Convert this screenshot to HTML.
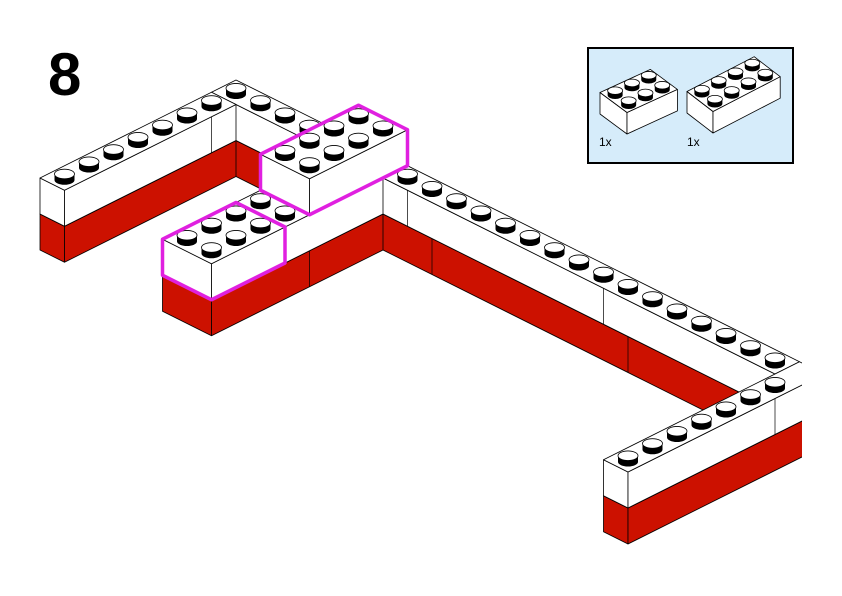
<!DOCTYPE html>
<html><head><meta charset="utf-8"><style>
html,body{margin:0;padding:0;background:#fff;width:842px;height:596px;overflow:hidden}
svg{display:block}
</style></head><body>
<svg id="s" width="842" height="596" viewBox="0 0 842 596" xmlns="http://www.w3.org/2000/svg">
<rect x="0" y="0" width="842" height="596" fill="#fff"/>
<g id="main"></g>
<rect x="802" y="0" width="40" height="596" fill="#fff"/>
<text x="48" y="95" font-family="Liberation Sans, sans-serif" font-weight="bold" font-size="60" fill="#000">8</text>
<rect x="588" y="48" width="205" height="115" fill="#d6ecfa" stroke="#000" stroke-width="2"/>
<g id="inset"></g>
<text x="599" y="146" font-family="Liberation Sans, sans-serif" font-size="12" fill="#000">1x</text>
<text x="687" y="146" font-family="Liberation Sans, sans-serif" font-size="12" fill="#000">1x</text>
</svg>
<script>
(function(){
var NS='http://www.w3.org/2000/svg';
var RED='#cc1100', MAG='#e020e0';
function el(p,n,at){var e=document.createElementNS(NS,n);for(var k in at)e.setAttribute(k,at[k]);p.appendChild(e);return e;}
function mkProj(ox,oy,A,B,H){return function(a,b,z){return [ox+A[0]*a+B[0]*b, oy+A[1]*a+B[1]*b-H*z];};}
function poly(g,P,pts,fill,sw){var s=pts.map(function(p){var q=P(p[0],p[1],p[2]);return q[0].toFixed(2)+','+q[1].toFixed(2);}).join(' ');
 el(g,'polygon',{points:s,fill:fill,stroke:'#000','stroke-width':sw,'stroke-linejoin':'round'});}
function box(g,P,a0,a1,b0,b1,z0,z1,fill,sw){
 poly(g,P,[[a0,b0,z0],[a1,b0,z0],[a1,b0,z1],[a0,b0,z1]],fill,sw);
 poly(g,P,[[a1,b0,z0],[a1,b1,z0],[a1,b1,z1],[a1,b0,z1]],fill,sw);
 poly(g,P,[[a0,b0,z1],[a1,b0,z1],[a1,b1,z1],[a0,b1,z1]],fill,sw);
}
function seamA(g,P,a,b,z0,z1){var p=P(a,b,z0),q=P(a,b,z1);el(g,'line',{x1:p[0],y1:p[1],x2:q[0],y2:q[1],stroke:'#000','stroke-width':0.7});}
function studs(list,P,a0,a1,b0,b1,z){for(var a=a0;a<a1;a++)for(var b=b0;b<b1;b++)list.push(P(a+.5,b+.5,z));}
function drawStuds(g,list,rx,ry,h,off){
 list.sort(function(p,q){return p[1]-q[1];});
 list.forEach(function(p){var x=p[0],y=p[1]+off;
  el(g,'path',{d:'M'+(x-rx)+','+(y-h)+' L'+(x-rx)+','+y+' A'+rx+','+ry+' 0 0 0 '+(x+rx)+','+y+' L'+(x+rx)+','+(y-h)+' Z',fill:'#000'});
  el(g,'ellipse',{cx:x,cy:y-h,rx:rx,ry:ry,fill:'#fff',stroke:'#000','stroke-width':0.8});
 });}
function outline(g,P,a0,a1,b0,b1,z0,z1){
 var pts=[[a0,b0,z1],[a0,b1,z1],[a1,b1,z1],[a1,b1,z0],[a1,b0,z0],[a0,b0,z0]];
 var s=pts.map(function(p){var q=P(p[0],p[1],p[2]);return q[0]+','+q[1];}).join(' ');
 el(g,'polygon',{points:s,fill:'none',stroke:MAG,'stroke-width':3.5,'stroke-linejoin':'round'});}

var g=document.getElementById('main');
var P=mkProj(40,250,[24.5,12.25],[24.5,-12.25],36);
var sw=0.8;
box(g,P,0,23,7,8,0,1,RED,sw); box(g,P,0,23,7,8,1,2,'#fff',sw);
box(g,P,0,1,0,7,0,1,RED,sw); box(g,P,0,1,0,7,1,2,'#fff',sw);
box(g,P,23,24,0,8,0,1,RED,sw); box(g,P,23,24,0,8,1,2,'#fff',sw);
box(g,P,5,7,0,7,0,1,RED,sw); box(g,P,5,7,3,7,1,2,'#fff',sw); box(g,P,5,7,0,3,1,2,'#fff',sw);
seamA(g,P,1,6,1,2);
seamA(g,P,8,7,1,2); seamA(g,P,16,7,1,2); seamA(g,P,9,7,0,1); seamA(g,P,17,7,0,1);
seamA(g,P,7,4,0,1); seamA(g,P,24,6,1,2);
var L=[];
studs(L,P,0,23,7,8,2); studs(L,P,0,1,0,7,2); studs(L,P,23,24,0,7,2); studs(L,P,5,7,0,4,2);
drawStuds(g,L,10,4.8,6,2);
box(g,P,5,7,4,8,2,3,'#fff',sw);
var L2=[]; studs(L2,P,5,7,4,8,3); drawStuds(g,L2,10,4.8,6,2);
outline(g,P,5,7,0,3,1,2); outline(g,P,5,7,4,8,2,3);

var gi=document.getElementById('inset');
var P1=mkProj(600,114,[13.5,10],[16.8,-7.7],21.5);
box(gi,P1,0,2,0,3,0,1,'#fff',0.8);
var S1=[];studs(S1,P1,0,2,0,3,1);drawStuds(gi,S1,7.5,3.8,4.5,1.5);
var P2=mkProj(687,113,[13,10],[16.8,-8.7],21.5);
box(gi,P2,0,2,0,4,0,1,'#fff',0.8);
var S2=[];studs(S2,P2,0,2,0,4,1);drawStuds(gi,S2,7.5,3.8,4.5,1.5);
})();
</script>
</body></html>
